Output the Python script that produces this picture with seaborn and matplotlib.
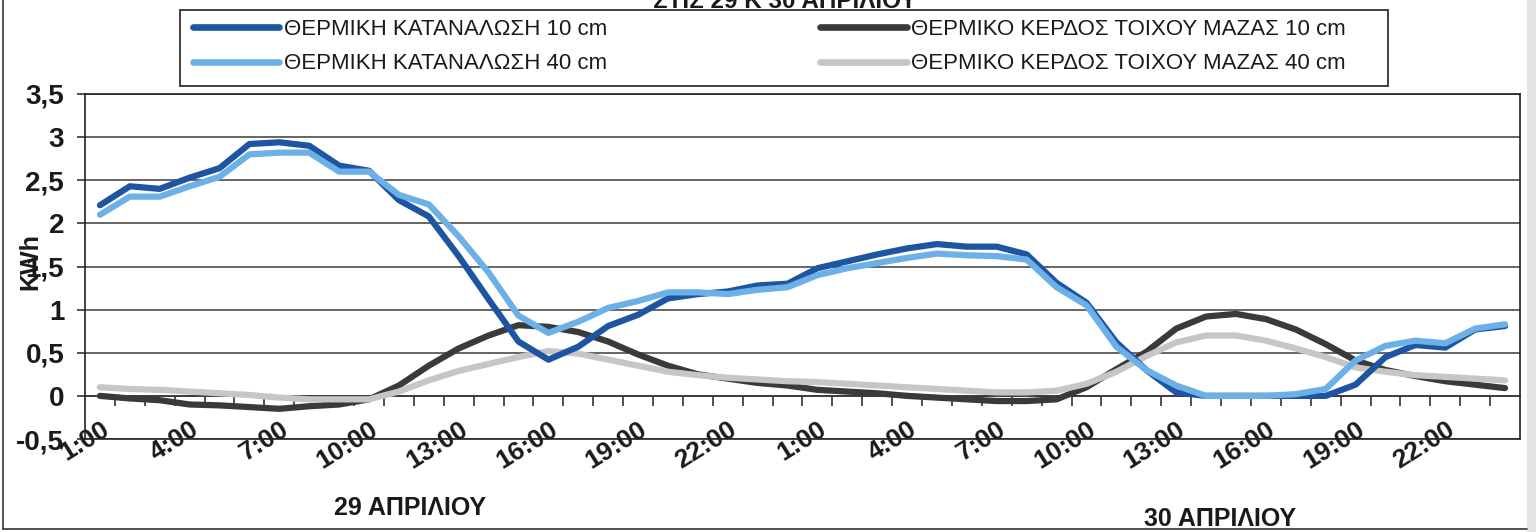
import numpy as np
import pandas as pd
import matplotlib
matplotlib.use("Agg")
import matplotlib.pyplot as plt
import seaborn as sns
from matplotlib.lines import Line2D
from matplotlib.patches import Rectangle
from matplotlib.transforms import ScaledTranslation

# ---- data: hourly values for 29 and 30 April (kWh) ----
hours = [f"{h}:00" for h in range(1, 25)]
days = ["29 ΑΠΡΙΛΙΟΥ", "30 ΑΠΡΙΛΙΟΥ"]

consumption_10cm = [
    2.21, 2.43, 2.40, 2.53, 2.64, 2.92, 2.94, 2.90, 2.67, 2.61, 2.27, 2.08,
    1.62, 1.12, 0.63, 0.42, 0.57, 0.81, 0.94, 1.13, 1.18, 1.21, 1.28, 1.30,
    1.48, 1.56, 1.64, 1.71, 1.76, 1.73, 1.73, 1.64, 1.31, 1.08, 0.62, 0.30,
    0.04, 0.00, 0.00, 0.00, 0.00, 0.00, 0.13, 0.45, 0.59, 0.56, 0.77, 0.81,
]
consumption_40cm = [
    2.10, 2.31, 2.31, 2.43, 2.54, 2.80, 2.82, 2.82, 2.60, 2.60, 2.33, 2.22,
    1.85, 1.43, 0.93, 0.73, 0.86, 1.02, 1.10, 1.20, 1.20, 1.18, 1.23, 1.26,
    1.40, 1.48, 1.54, 1.60, 1.65, 1.63, 1.62, 1.58, 1.26, 1.05, 0.57, 0.30,
    0.12, 0.00, 0.00, 0.00, 0.02, 0.08, 0.41, 0.58, 0.64, 0.61, 0.78, 0.83,
]
wall_gain_10cm = [
    0.00, -0.03, -0.05, -0.10, -0.11, -0.13, -0.15, -0.12, -0.10, -0.04, 0.12, 0.35,
    0.55, 0.70, 0.82, 0.80, 0.74, 0.63, 0.48, 0.35, 0.25, 0.20, 0.15, 0.12,
    0.07, 0.05, 0.03, 0.00, -0.02, -0.04, -0.06, -0.06, -0.04, 0.10, 0.31, 0.51,
    0.78, 0.92, 0.95, 0.89, 0.77, 0.60, 0.41, 0.30, 0.23, 0.17, 0.13, 0.09,
]
wall_gain_40cm = [
    0.10, 0.08, 0.07, 0.05, 0.03, 0.01, -0.02, -0.04, -0.04, -0.04, 0.05, 0.18,
    0.29, 0.37, 0.45, 0.52, 0.49, 0.42, 0.35, 0.28, 0.24, 0.21, 0.19, 0.17,
    0.16, 0.14, 0.12, 0.10, 0.08, 0.06, 0.04, 0.04, 0.06, 0.14, 0.28, 0.46,
    0.62, 0.70, 0.70, 0.64, 0.55, 0.45, 0.33, 0.28, 0.24, 0.22, 0.20, 0.18,
]

series_names = [
    "ΘΕΡΜΙΚΗ ΚΑΤΑΝΑΛΩΣΗ 10 cm",
    "ΘΕΡΜΙΚΗ ΚΑΤΑΝΑΛΩΣΗ 40 cm",
    "ΘΕΡΜΙΚΟ ΚΕΡΔΟΣ ΤΟΙΧΟΥ ΜΑΖΑΣ 10 cm",
    "ΘΕΡΜΙΚΟ ΚΕΡΔΟΣ ΤΟΙΧΟΥ ΜΑΖΑΣ 40 cm",
]
series_values = [consumption_10cm, consumption_40cm, wall_gain_10cm, wall_gain_40cm]
series_colors = ["#1d55a2", "#6cb0e8", "#3a3a3a", "#c6c6c6"]

y_ticks = [-0.5, 0, 0.5, 1, 1.5, 2, 2.5, 3, 3.5]
y_tick_labels = ["-0,5", "0", "0,5", "1", "1,5", "2", "2,5", "3", "3,5"]

# ---- long table for seaborn ----
n = len(hours) * len(days)
records = []
for name, vals in zip(series_names, series_values):
    for i, v in enumerate(vals):
        records.append({"pos": i, "kwh": v, "series": name})
df = pd.DataFrame(records)

sns.set_theme(style="white")
plt.rcParams["font.family"] = ["Liberation Sans", "DejaVu Sans"]

W, H = 1536, 532
fig = plt.figure(figsize=(W / 100, H / 100), dpi=100)
fig.patch.set_facecolor("white")

ax_left, ax_right, ax_top, ax_bottom = 85, 1520, 94, 439
ax = fig.add_axes([ax_left / W, 1 - ax_bottom / H,
                   (ax_right - ax_left) / W, (ax_bottom - ax_top) / H])

# horizontal gridlines
for yv in y_ticks:
    ax.axhline(yv, color="#3c3c3c", lw=1.1, zorder=1)

# gains drawn first, consumption on top
draw_order = [series_names[2], series_names[3], series_names[0], series_names[1]]
palette = dict(zip(series_names, series_colors))
sns.lineplot(data=df, x="pos", y="kwh", hue="series", hue_order=draw_order,
             palette=palette, linewidth=4.5, legend=False, sort=False,
             estimator=None, ax=ax, zorder=3)
for ln in ax.get_lines():
    ln.set_solid_joinstyle("round")
    ln.set_solid_capstyle("round")

ax.set_xlim(-0.5, n - 0.5)
ax.set_ylim(-0.5, 3.5)
ax.set_xlabel("")
ax.set_ylabel("")

for sp in ax.spines.values():
    sp.set_visible(True)
    sp.set_color("#222222")
    sp.set_linewidth(1.2)

# y axis
ax.set_yticks(y_ticks)
ax.set_yticklabels(y_tick_labels, fontsize=20, fontweight="bold", color="#1a1a1a")
ax.tick_params(axis="y", direction="out", length=6, width=1.1, pad=9, color="#222222", left=True)

# x labels every three hours, at the bottom of the plot area
tick_pos = list(range(0, n, 3))
tick_lab = [(hours * 2)[p] for p in tick_pos]
ax.set_xticks(tick_pos)
ax.set_xticklabels(tick_lab, fontsize=19, fontweight="bold", color="#1a1a1a")
ax.tick_params(axis="x", length=0, pad=0, bottom=True)
shift = ScaledTranslation(0.07, 0.12, fig.dpi_scale_trans)
for lbl in ax.get_xticklabels():
    lbl.set_rotation(32)
    lbl.set_rotation_mode("anchor")
    lbl.set_ha("right")
    lbl.set_va("center")
    lbl.set_transform(lbl.get_transform() + shift)

# category axis crossing at zero with tick marks between categories
zero_frac = (0 - (-0.5)) / 4.0
sec = ax.secondary_xaxis(zero_frac)
sec.set_xticks(np.arange(0.5, n - 1, 1.0))
sec.tick_params(axis="x", direction="out", length=7, width=1.1, color="#222222",
                labelbottom=False, labeltop=False)
sec.spines["bottom"].set_color("#222222")
sec.spines["bottom"].set_linewidth(1.2)

# axis title
fig.text(30 / W, 1 - 262 / H, "KWh", rotation=90, fontsize=18, fontweight="bold",
         ha="center", va="center", color="#1a1a1a")

# day captions
fig.text(410 / W, 1 - 508 / H, days[0], fontsize=18, fontweight="bold",
         ha="center", va="center", color="#1a1a1a")
fig.text(1220 / W, 1 - 519 / H, days[1], fontsize=18, fontweight="bold",
         ha="center", va="center", color="#1a1a1a")

# chart title (last line, clipped by the top edge)
fig.text(785 / W, 0.998, "ΣΤΙΣ 29 Κ 30 ΑΠΡΙΛΙΟΥ", fontsize=17.5, fontweight="bold",
         ha="center", va="center", color="#1a1a1a", zorder=6)

# legend box and entries
fig.add_artist(Rectangle((180 / W, 1 - 86 / H), (1388 - 180) / W, (86 - 10) / H,
                         transform=fig.transFigure, facecolor="white",
                         edgecolor="#222222", lw=1.2, zorder=4))
handles = [Line2D([0], [0], color=c, lw=4.8, solid_capstyle="round") for c in series_colors]
leg = fig.legend(handles, series_names, loc="upper left",
                 bbox_to_anchor=(186 / W, 1 - 12 / H), bbox_transform=fig.transFigure,
                 ncol=2, fontsize=16, frameon=False,
                 handlelength=3.9, handletextpad=0.2, columnspacing=9.6,
                 labelspacing=0.62, borderpad=0.3, borderaxespad=0)
leg.set_zorder(5)
for t in leg.get_texts():
    t.set_color("#1a1a1a")

# outer chart border (left and bottom), page edge at the right
fig.add_artist(Line2D([3 / W, 3 / W], [1.0, 1 - 529 / H], transform=fig.transFigure,
                      color="#333333", lw=1.2))
fig.add_artist(Line2D([3 / W, 1527 / W], [1 - 529 / H, 1 - 529 / H],
                      transform=fig.transFigure, color="#333333", lw=1.2))
fig.add_artist(Rectangle((1527 / W, 0), 9 / W, 1, transform=fig.transFigure,
                         facecolor="#e3e3e3", edgecolor="none", zorder=0.5))

fig.savefig("out.png", dpi=100, facecolor="white")
